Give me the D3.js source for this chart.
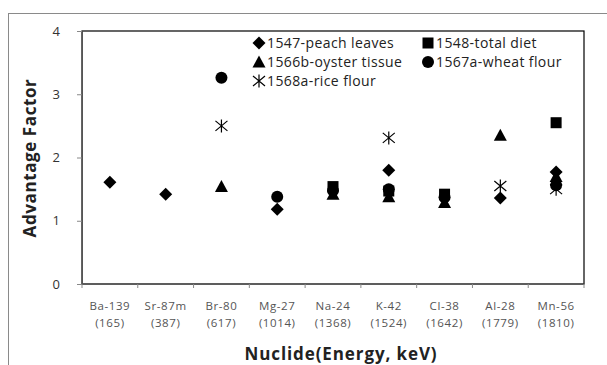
<!DOCTYPE html>
<html><head><meta charset="utf-8">
<script src="https://cdn.jsdelivr.net/npm/d3@7"></script>
<style>body{margin:0;background:#fff}svg{display:block}</style>
</head><body><svg id="c" width="607" height="365"></svg>
<script>
const nuclides = ["Ba-139","Sr-87m","Br-80","Mg-27","Na-24","K-42","Cl-38","Al-28","Mn-56"];
const energies = ["(165)","(387)","(617)","(1014)","(1368)","(1524)","(1642)","(1779)","(1810)"];
const seriesNames = ["1547-peach leaves","1548-total diet","1566b-oyster tissue","1567a-wheat flour","1568a-rice flour"];
const peach  = [1.61,1.42,null,1.18,null,1.80,null,1.36,1.77];
const diet   = [null,null,null,null,1.54,1.47,1.42,null,2.55];
const oyster = [null,null,1.54,null,1.42,1.38,1.29,2.35,1.70];
const wheat  = [null,null,3.26,1.38,1.48,1.50,1.37,null,1.56];
const rice   = [null,null,2.50,null,null,2.31,null,1.55,1.50];
const yTicks = [0,1,2,3,4];

const svg = d3.select("#c");
const m = {l:82, t:31, r:584, b:284};
const x = d3.scaleBand().domain(nuclides).range([m.l, m.r]);
const y = d3.scaleLinear().domain([0,4]).range([m.b, m.t]);
const font = "'Open Sans', sans-serif";

svg.append("rect").attr("x",8.5).attr("y",13.5).attr("width",640).attr("height",400)
  .attr("fill","none").attr("stroke","#8a8a8a").attr("stroke-width",1);

// plot frame
svg.append("rect").attr("x",m.l).attr("y",m.t).attr("width",m.r-m.l).attr("height",m.b-m.t)
  .attr("fill","none").attr("stroke","#000").attr("stroke-width",1.2);

// y axis
const ya = svg.append("g").attr("transform",`translate(${m.l},0)`)
  .call(d3.axisLeft(y).tickValues(yTicks).tickSize(5).tickPadding(17).tickFormat(d3.format("d")));
ya.select(".domain").attr("stroke","#555");
ya.selectAll(".tick line").attr("stroke","#888");
ya.selectAll("text").attr("font-family",font).attr("font-size",13).attr("fill","#333");

// x axis (ticks between categories)
const xa = svg.append("g").attr("transform",`translate(0,${m.b})`);
xa.append("line").attr("x1",m.l).attr("x2",m.r).attr("stroke","#555");
const bounds = d3.range(nuclides.length+1).map(i => m.l + i*x.step());
xa.selectAll("line.t").data(bounds).join("line").attr("class","t")
  .attr("x1",d=>d).attr("x2",d=>d).attr("y1",0).attr("y2",4).attr("stroke","#888");
const lab = xa.selectAll("text.l").data(nuclides).join("text").attr("class","l")
  .attr("x",d=>x(d)+x.bandwidth()/2).attr("text-anchor","middle")
  .attr("font-family",font).attr("font-size",11.5).attr("letter-spacing",0.6).attr("fill","#555");
lab.append("tspan").attr("x",d=>x(d)+x.bandwidth()/2).attr("y",26).text(d=>d);
lab.append("tspan").attr("x",d=>x(d)+x.bandwidth()/2).attr("y",43).text((d,i)=>energies[i]);

// titles
svg.append("text").attr("x",341).attr("y",360).attr("text-anchor","middle")
  .attr("font-family",font).attr("font-weight","bold").attr("font-size",17).attr("letter-spacing",0.9).attr("fill","#222")
  .text("Nuclide(Energy, keV)");
svg.append("text").attr("transform","translate(36,158) rotate(-90)").attr("text-anchor","middle")
  .attr("font-family",font).attr("font-weight","bold").attr("font-size",17).attr("letter-spacing",0.6).attr("fill","#222")
  .text("Advantage Factor");

// markers
function drawMarker(g, k, cx, cy){
  if(k===0) g.append("path").attr("d",`M${cx},${cy-6.5}L${cx+6.5},${cy}L${cx},${cy+6.5}L${cx-6.5},${cy}Z`).attr("fill","#000");
  else if(k===1) g.append("rect").attr("x",cx-5.5).attr("y",cy-5.5).attr("width",11).attr("height",11).attr("fill","#000");
  else if(k===2) g.append("path").attr("d",`M${cx},${cy-6.5}L${cx+6.5},${cy+5.5}L${cx-6.5},${cy+5.5}Z`).attr("fill","#000");
  else if(k===3) g.append("circle").attr("cx",cx).attr("cy",cy).attr("r",6).attr("fill","#000");
  else {
    g.append("path").attr("d",`M${cx},${cy-6.5}V${cy+6.5}M${cx-6},${cy-5}L${cx+6},${cy+5}M${cx+6},${cy-5}L${cx-6},${cy+5}`)
      .attr("stroke","#000").attr("stroke-width",1.2).attr("fill","none");
  }
}
const all = [peach, diet, oyster, wheat, rice];
const pts = svg.append("g");
all.forEach((arr,k)=>{
  arr.forEach((v,i)=>{ if(v!=null) drawMarker(pts,k,x(nuclides[i])+x.bandwidth()/2,y(v)); });
});

// legend
const leg = svg.append("g");
const legPos = [[259,43],[428,43],[259,62],[428,62],[259,81]];
seriesNames.forEach((n,k)=>{
  const [lx,ly]=legPos[k];
  drawMarker(leg,k,lx,ly);
  leg.append("text").attr("x",lx+8).attr("y",ly+5).attr("font-family",font).attr("font-size",14)
    .attr("letter-spacing",0.4).attr("fill","#222").text(n);
});
</script></body></html>
